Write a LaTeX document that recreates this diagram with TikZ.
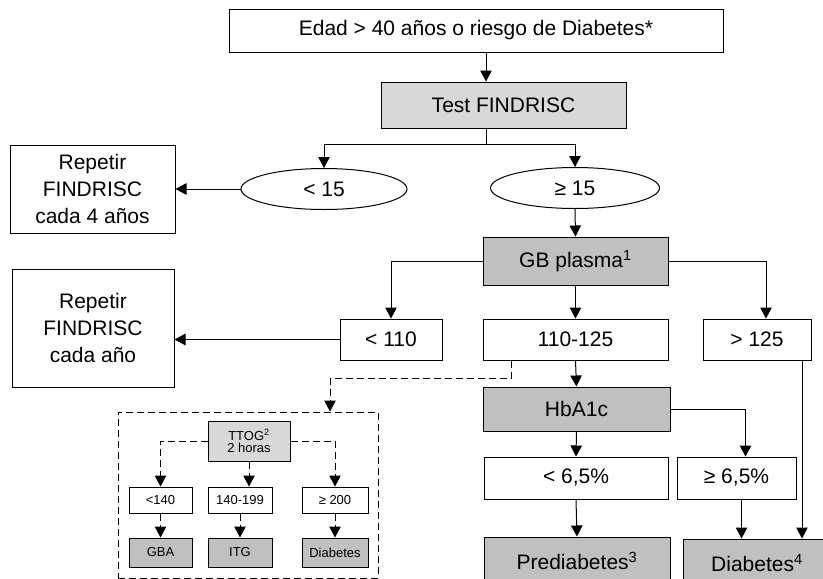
\documentclass[tikz,border=0pt]{standalone}
\usepackage{fontspec}
\setmainfont{Liberation Sans}
\usetikzlibrary{arrows.meta,shapes.geometric}
\definecolor{boxlight}{RGB}{216,216,216}
\definecolor{boxdark}{RGB}{192,192,192}

\begin{document}
\begin{tikzpicture}[
  x=1pt,y=-1pt,
  line width=1pt,
  every node/.style={font=\fontsize{21}{27}\selectfont, align=center, inner sep=0pt},
  box/.style={draw, fill=white},
  lbox/.style={draw, fill=boxlight},
  dbox/.style={draw, fill=boxdark},
  oval/.style={draw, fill=white, ellipse},
  small/.style={font=\fontsize{13}{12}\selectfont},
  arr/.style={-{Triangle[length=11pt,width=11.5pt]}},
  dsh/.style={dash pattern=on 7pt off 4pt}
]
\useasboundingbox (0,0) rectangle (823,579);

% first step
\node[box, minimum width=494pt, minimum height=43pt] (edad) at (476,30.5) {Edad > 40 años o riesgo de Diabetes*};
\node[lbox, minimum width=245pt, minimum height=46pt] (test) at (503.5,105) {Test FINDRISC};
\coordinate (fork) at (486,144);
\node[oval, minimum width=166pt, minimum height=41pt] (lt15) at (324,189) {< 15};
\node[oval, minimum width=169pt, minimum height=41pt] (ge15) at (575,188) {≥ 15};
\node[box, minimum width=165pt, minimum height=88pt] (rep4) at (92.5,189) {Repetir\\FINDRISC\\cada 4 años};

\draw[arr] (edad.south -| fork) -- (test.north -| fork);
\draw (test.south -| fork) -- (fork);
\draw[arr] (fork) -| (lt15.north);
\draw[arr] (fork) -| (ge15.north);
\draw[arr] (lt15.west) -- (rep4.east);

% glucose
\node[dbox, minimum width=185pt, minimum height=48pt] (gb) at (575.5,261) {GB plasma\textsuperscript{1}};
\node[box, minimum width=102pt, minimum height=41pt] (lt110) at (391,339.5) {< 110};
\node[box, minimum width=185pt, minimum height=41pt] (mid) at (575.5,339.5) {110-125};
\node[box, minimum width=108pt, minimum height=41pt] (gt125) at (757,339.5) {> 125};
\node[box, minimum width=162pt, minimum height=118pt] (rep1) at (93,328) {Repetir\\FINDRISC\\cada año};

\draw[arr] (ge15.south) -- (gb.north);
\draw[arr] (gb.west) -| (lt110.north);
\draw[arr] (gb.south) -- (mid.north);
\draw[arr] (gb.east) -| ([xshift=9pt]gt125.north);
\draw[arr] (lt110.west) -- (lt110.west -| rep1.east);

% HbA1c
\node[dbox, minimum width=187pt, minimum height=44pt] (hba) at (576.5,409) {HbA1c};
\node[box, minimum width=184pt, minimum height=42pt] (lt65) at (576,478) {< 6,5\%};
\node[box, minimum width=119pt, minimum height=42pt] (ge65) at (736.5,478) {≥ 6,5\%};
\node[dbox, minimum width=186pt, minimum height=48pt] (pre) at (577,561) {Prediabetes\textsuperscript{3}};
\node[dbox, minimum width=148pt, minimum height=48pt] (diab) at (757,563) {Diabetes\textsuperscript{4}};

\draw[arr] (mid.south) -- (hba.north);
\draw[arr] (hba.south) -- (lt65.north);
\draw[arr] (hba.east) -| ([xshift=9pt]ge65.north);
\draw[arr] (lt65.south) -- (pre.north);
\draw[arr] ([xshift=5pt]ge65.south) -- ([xshift=5pt]ge65.south |- diab.north);
\draw[arr] ([xshift=45pt]gt125.south) -- ([xshift=45pt]gt125.south |- diab.north);

% TTOG
\node[draw, dsh, minimum width=260pt, minimum height=166pt] (ttbox) at (248,495) {};
\node[lbox, small, minimum width=82pt, minimum height=40pt] (ttog) at (249,441) {TTOG\textsuperscript{2}\\2 horas};
\node[box, small, minimum width=63pt, minimum height=26pt] (s140) at (160.5,500) {<140};
\node[box, small, minimum width=64pt, minimum height=26pt] (s199) at (240,500) {140-199};
\node[box, small, minimum width=66pt, minimum height=26pt] (s200) at (335,500) {≥ 200};
\node[dbox, small, minimum width=63pt, minimum height=29pt] (gba) at (160.5,552.5) {GBA};
\node[dbox, small, minimum width=64pt, minimum height=29pt] (itg) at (240,552.5) {ITG};
\node[dbox, small, minimum width=66pt, minimum height=29pt] (sdiab) at (335,552.5) {Diabetes};

\draw[dsh, arr] ([xshift=-64.5pt]mid.south) -- ++(0,18) -| ([xshift=82pt]ttbox.north);
\draw[dsh, arr] (ttog.west) -| (s140.north);
\draw[dsh, arr] (ttog.south) -- (ttog.south |- s199.north);
\draw[dsh, arr] (ttog.east) -| (s200.north);
\draw[dsh, arr] (s140.south) -- (gba.north);
\draw[dsh, arr] (s199.south) -- (itg.north);
\draw[dsh, arr] (s200.south) -- (sdiab.north);
\end{tikzpicture}
\end{document}
